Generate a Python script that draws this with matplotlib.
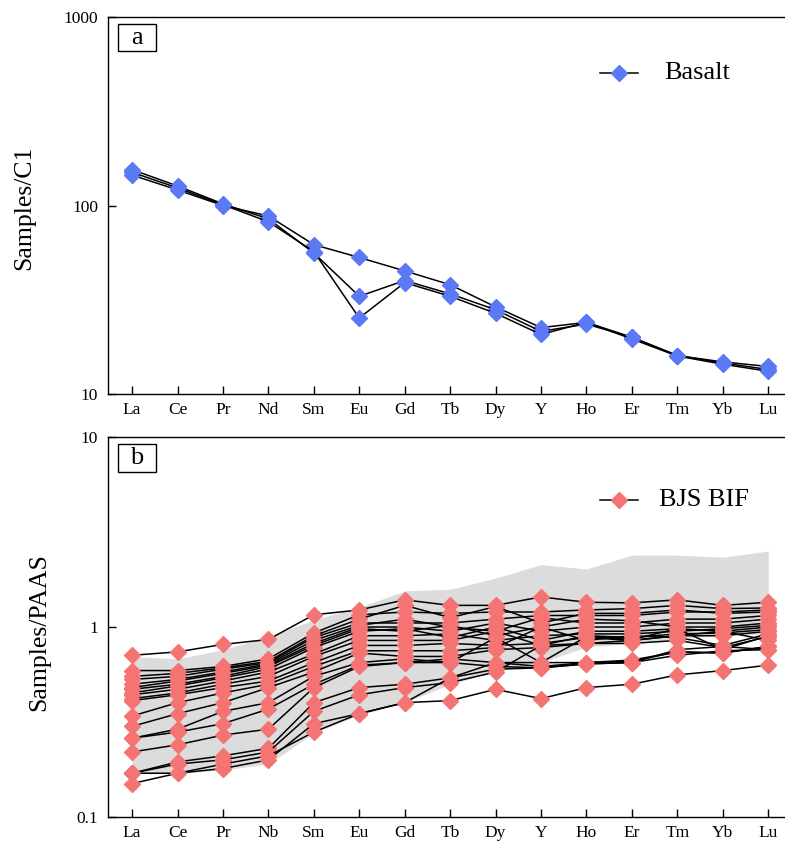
import matplotlib
matplotlib.use("Agg")
import matplotlib.pyplot as plt
from matplotlib.patches import Rectangle
import numpy as np

plt.rcParams['font.family'] = ['Liberation Serif', 'DejaVu Serif']

# ---- panel a: basalt, chondrite (C1) normalised ----
ree_a = ['La', 'Ce', 'Pr', 'Nd', 'Sm', 'Eu', 'Gd', 'Tb', 'Dy', 'Y', 'Ho', 'Er', 'Tm', 'Yb', 'Lu']
basalt_1 = [145, 121, 100, 88, 62, 53, 45, 38, 29, 22.5, 24, 20, 16, 14.8, 14.0]
basalt_2 = [155, 127, 102, 85, 56, 33, 40, 34, 28, 21.5, 23.5, 20, 16, 14.6, 13.5]
basalt_3 = [150, 124, 101, 82, 57, 25.3, 39, 33, 26.8, 20.7, 24, 19.6, 15.9, 14.4, 13.2]
basalt = [basalt_1, basalt_2, basalt_3]

# ---- panel b: BJS BIF, PAAS normalised ----
ree_b = ['La', 'Ce', 'Pr', 'Nb', 'Sm', 'Eu', 'Gd', 'Tb', 'Dy', 'Y', 'Ho', 'Er', 'Tm', 'Yb', 'Lu']
bif = [
    [0.71, 0.74, 0.81, 0.86, 1.16, 1.23, 1.39, 1.30, 1.30, 1.44, 1.35, 1.34, 1.39, 1.30, 1.35],
    [0.59, 0.59, 0.62, 0.68, 0.93, 1.16, 1.20, 1.18, 1.20, 1.20, 1.23, 1.25, 1.30, 1.25, 1.26],
    [0.55, 0.57, 0.61, 0.66, 0.90, 1.10, 1.30, 1.12, 1.28, 1.05, 1.18, 1.18, 1.23, 1.18, 1.20],
    [0.53, 0.55, 0.60, 0.65, 0.88, 1.05, 1.05, 1.05, 1.10, 1.15, 1.15, 1.15, 1.20, 1.20, 1.23],
    [0.50, 0.53, 0.58, 0.64, 0.85, 1.02, 1.10, 1.00, 0.95, 1.12, 1.05, 1.05, 1.10, 1.10, 1.15],
    [0.48, 0.52, 0.57, 0.63, 0.82, 1.00, 1.00, 0.95, 1.05, 0.95, 1.00, 1.00, 1.05, 1.05, 1.10],
    [0.47, 0.50, 0.55, 0.62, 0.80, 0.98, 0.95, 1.02, 0.90, 1.00, 1.10, 1.08, 1.00, 1.00, 1.05],
    [0.45, 0.49, 0.54, 0.60, 0.78, 0.95, 0.98, 0.88, 1.00, 0.85, 0.95, 0.95, 0.98, 0.95, 1.00],
    [0.44, 0.47, 0.52, 0.58, 0.72, 0.90, 0.90, 0.92, 0.85, 0.90, 0.92, 0.92, 0.95, 0.98, 1.02],
    [0.42, 0.45, 0.50, 0.55, 0.70, 0.85, 0.85, 0.85, 0.95, 0.80, 0.90, 0.88, 0.92, 0.93, 0.97],
    [0.41, 0.44, 0.48, 0.52, 0.65, 0.80, 0.80, 0.82, 0.80, 0.82, 0.88, 0.85, 0.90, 0.90, 0.95],
    [0.34, 0.40, 0.45, 0.50, 0.62, 0.75, 0.75, 0.75, 0.78, 1.00, 0.85, 0.90, 0.88, 0.80, 0.92],
    [0.30, 0.35, 0.40, 0.48, 0.58, 0.73, 0.70, 0.70, 0.76, 0.78, 0.82, 0.82, 0.85, 0.78, 0.89],
    [0.26, 0.29, 0.36, 0.40, 0.55, 0.65, 0.68, 0.65, 0.88, 0.65, 0.89, 0.86, 0.98, 0.76, 0.90],
    [0.26, 0.28, 0.31, 0.37, 0.50, 0.63, 0.65, 0.68, 0.65, 0.62, 0.65, 0.67, 0.74, 0.73, 0.79],
    [0.22, 0.24, 0.27, 0.29, 0.48, 0.62, 0.65, 0.65, 0.62, 0.61, 0.64, 0.65, 0.71, 0.75, 0.76],
    [0.17, 0.195, 0.21, 0.23, 0.40, 0.48, 0.50, 0.54, 0.65, 0.65, 0.65, 0.66, 0.74, 0.73, 0.79],
    [0.17, 0.19, 0.20, 0.22, 0.36, 0.44, 0.48, 0.51, 0.58, 0.80, 0.82, 0.85, 0.90, 0.95, 0.85],
    [0.15, 0.17, 0.18, 0.20, 0.31, 0.35, 0.40, 0.54, 0.60, 0.61, 0.64, 0.65, 0.76, 0.79, 0.76],
    [0.17, 0.17, 0.19, 0.21, 0.28, 0.35, 0.40, 0.41, 0.47, 0.42, 0.48, 0.50, 0.56, 0.59, 0.63],
]
# grey reference field
field_hi = [0.70, 0.68, 0.76, 0.89, 1.09, 1.27, 1.55, 1.58, 1.81, 2.13, 2.02, 2.39, 2.39, 2.33, 2.51]
field_lo = [0.17, 0.17, 0.177, 0.19, 0.277, 0.345, 0.40, 0.50, 0.58, 0.65, 0.785, 0.82, 0.87, 0.90, 0.92]

blue = '#5b78f5'
red = '#f47373'

fig = plt.figure(figsize=(7.85, 8.43), dpi=100)
ax1 = fig.add_axes([0.1376, 0.5326, 0.8624, 0.4472])
ax2 = fig.add_axes([0.1376, 0.0308, 0.8624, 0.4508])

x = np.arange(15)

for s in basalt:
    ax1.plot(x, s, color='black', lw=1.1, marker='D', ms=8.5,
             mfc=blue, mec=blue, zorder=3)

ax2.fill_between(x, field_lo, field_hi, color='#dcdcdc', lw=0, zorder=1)
for s in bif:
    ax2.plot(x, s, color='black', lw=1.1, marker='D', ms=8.5,
             mfc=red, mec=red, zorder=3)

def style(ax, labels, ylim, ylabel, ylab_x, ylab_y, letter, box_y0, leg_y, leg_text, leg_tx, col):
    ax.set_yscale('log')
    ax.set_ylim(*ylim)
    ax.set_xlim(-0.53, 14.37)
    ax.set_xticks(x)
    ax.set_xticklabels(labels)
    ax.minorticks_off()
    ax.yaxis.set_major_formatter(matplotlib.ticker.FuncFormatter(lambda v, p: '%g' % v))
    ax.tick_params(direction='in', length=6, width=1, labelsize=12.5)
    ax.tick_params(axis='x', pad=6)
    ax.tick_params(axis='y', pad=7)
    ax.spines['right'].set_visible(False)
    for sp in ['left', 'bottom', 'top']:
        ax.spines[sp].set_linewidth(1.0)
    ax.set_ylabel(ylabel, fontsize=18.5)
    ax.yaxis.set_label_coords(ylab_x, ylab_y)
    # panel letter in a box
    ax.add_patch(Rectangle((0.015, box_y0), 0.056, 0.073, transform=ax.transAxes,
                           fill=False, ec='black', lw=1.0, zorder=5))
    ax.text(0.043, box_y0 + 0.0365, letter, transform=ax.transAxes, fontsize=19,
            ha='center', va='center', zorder=6)
    # legend entry
    ax.plot([0.727, 0.783], [leg_y, leg_y], transform=ax.transAxes, color='black', lw=1.1)
    ax.plot([0.755], [leg_y], transform=ax.transAxes, marker='D', ms=8.5,
            mfc=col, mec=col)
    ax.text(leg_tx, leg_y, leg_text, transform=ax.transAxes, fontsize=19,
            ha='left', va='center')

style(ax1, ree_a, (10, 1000), 'Samples/C1', -0.108, 0.493, 'a', 0.909, 0.851, 'Basalt', 0.821, blue)
style(ax2, ree_b, (0.1, 10), 'Samples/PAAS', -0.086, 0.487, 'b', 0.908, 0.834, 'BJS BIF', 0.814, red)

fig.savefig('out.png', dpi=100)
